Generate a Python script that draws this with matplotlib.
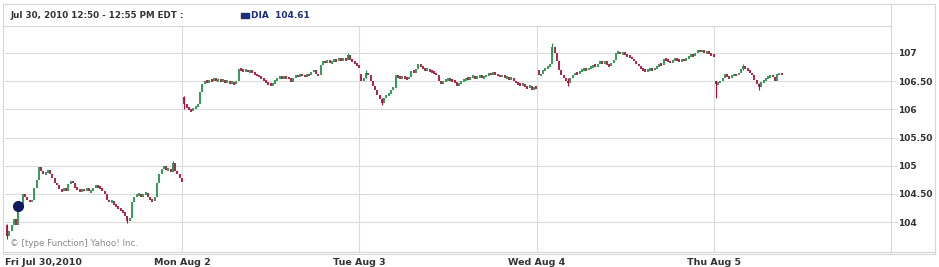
from matplotlib import pyplot as plt
from matplotlib.lines import Line2D
from matplotlib.patches import Rectangle
import numpy as np

# 5-minute closes, one list per trading day
fri_close = [103.75, 103.85, 103.95, 104.05, 103.95, 104.2, 104.3, 104.5, 104.45, 104.4,
             104.35, 104.4, 104.6, 104.75, 104.98, 104.9, 104.85, 104.88, 104.92, 104.85,
             104.78, 104.7, 104.65, 104.58, 104.55, 104.6, 104.55, 104.68, 104.72, 104.7,
             104.6, 104.58, 104.55, 104.58, 104.56, 104.6, 104.55, 104.55, 104.6, 104.65,
             104.62, 104.6, 104.55, 104.5, 104.4, 104.35, 104.38, 104.3, 104.28, 104.25,
             104.2, 104.18, 104.1, 104.02, 104.08, 104.35, 104.45, 104.48, 104.5, 104.45,
             104.5, 104.52, 104.45, 104.4, 104.38, 104.45, 104.7, 104.85, 104.95, 105.0,
             104.92, 104.95, 104.88, 105.05, 104.9, 104.85, 104.78, 104.72]
mon_close = [106.1, 106.03, 106.0, 105.97, 106.02, 106.05, 106.1, 106.3, 106.45, 106.5,
             106.48, 106.52, 106.5, 106.55, 106.5, 106.53, 106.5, 106.52, 106.48, 106.5,
             106.46, 106.48, 106.45, 106.5, 106.72, 106.7, 106.68, 106.7, 106.66, 106.68,
             106.66, 106.62, 106.6, 106.58, 106.55, 106.52, 106.48, 106.45, 106.42, 106.45,
             106.52, 106.55, 106.57, 106.55, 106.58, 106.56, 106.55, 106.48, 106.55, 106.6,
             106.58, 106.62, 106.6, 106.58, 106.62, 106.6, 106.66, 106.7, 106.62, 106.6,
             106.78, 106.85, 106.83, 106.87, 106.82, 106.85, 106.88, 106.86, 106.9, 106.87,
             106.9, 106.88, 106.97, 106.88, 106.85, 106.82, 106.78, 106.75]
tue_close = [106.5, 106.55, 106.65, 106.6, 106.5, 106.42, 106.35, 106.25, 106.18, 106.12,
             106.2, 106.25, 106.28, 106.35, 106.38, 106.6, 106.57, 106.55, 106.57, 106.55,
             106.53, 106.58, 106.68, 106.65, 106.72, 106.8, 106.75, 106.72, 106.7, 106.7,
             106.68, 106.67, 106.65, 106.6, 106.5, 106.45, 106.5, 106.52, 106.55, 106.52,
             106.5, 106.48, 106.42, 106.45, 106.5, 106.52, 106.55, 106.53, 106.57, 106.58,
             106.55, 106.57, 106.6, 106.55, 106.58, 106.6, 106.63, 106.62, 106.65, 106.62,
             106.6, 106.58, 106.6, 106.55, 106.57, 106.53, 106.55, 106.5, 106.47, 106.45,
             106.42, 106.45, 106.4, 106.38, 106.42, 106.35, 106.4, 106.38]
wed_close = [106.6, 106.62, 106.7, 106.72, 106.75, 106.8, 107.1, 107.0, 106.85, 106.7,
             106.6, 106.55, 106.5, 106.47, 106.55, 106.6, 106.65, 106.62, 106.68, 106.7,
             106.72, 106.7, 106.73, 106.75, 106.78, 106.76, 106.8, 106.85, 106.82, 106.85,
             106.78, 106.77, 106.82, 106.88, 107.0, 107.02, 106.98, 107.0, 106.97, 106.95,
             106.92, 106.9, 106.85, 106.8, 106.77, 106.72, 106.7, 106.68, 106.7, 106.72,
             106.7, 106.73, 106.75, 106.8, 106.78, 106.9, 106.88, 106.85, 106.83, 106.87,
             106.9, 106.88, 106.86, 106.88, 106.87, 106.9, 106.95, 106.97, 106.95, 107.0,
             107.05, 107.02, 107.05, 107.0, 107.03, 106.98, 106.96, 106.94]
thu_close = [106.45, 106.47, 106.5, 106.55, 106.62, 106.58, 106.55, 106.6, 106.62, 106.6,
             106.65, 106.72, 106.77, 106.72, 106.7, 106.65, 106.6, 106.52, 106.45, 106.4,
             106.48, 106.52, 106.55, 106.57, 106.6, 106.58, 106.5, 106.62, 106.63, 106.62]
day_open = [103.95, 106.22, 106.62, 106.7, 106.5]

# a few long wicks that stand out (day, bar, low, high)
wick_day = [0, 0, 0, 1, 1, 2, 2, 3, 3, 4, 4, 4]
wick_bar = [0, 53, 73, 0, 72, 2, 9, 6, 13, 0, 12, 19]
wick_lo = [103.7, 103.98, 104.9, 106.0, 106.9, 106.55, 106.08, 106.95, 106.42, 106.2, 106.7, 106.35]
wick_hi = [103.97, 104.1, 105.08, 106.24, 107.0, 106.69, 106.2, 107.17, 106.55, 106.5, 106.8, 106.47]

day_labels = ["Fri Jul 30,2010", "Mon Aug 2", "Tue Aug 3", "Wed Aug 4", "Thu Aug 5"]
y_ticks = [104, 104.5, 105, 105.5, 106, 106.5, 107]
y_tick_labels = ["104", "104.50", "105", "105.50", "106", "106.50", "107"]

header_text = "Jul 30, 2010 12:50 - 12:55 PM EDT :"
quote_text = "DIA  104.61"
marker_day, marker_bar, marker_price = 0, 5, 104.28

BARS_PER_DAY = 78
UP = "#23924a"
DOWN = "#a8123a"
GRID = "#dcdcdc"
TEXT = "#333333"
W, H = 939, 267


def main():
    fig = plt.figure(figsize=(W / 100, H / 100), dpi=100)
    fig.patch.set_facecolor("white")

    def fx(px):
        return px / W

    def fy(py):
        return 1 - py / H

    ax = fig.add_axes([fx(5), fy(252), fx(891) - fx(5), fy(27) - fy(252)])
    ax.set_xlim(0, 5 * BARS_PER_DAY)
    ax.set_ylim(103.47, 107.46)
    for s in ax.spines.values():
        s.set_visible(False)

    # horizontal grid + day separators
    for t in y_ticks:
        ax.axhline(t, color=GRID, lw=0.8, zorder=0)
    for d in range(1, 5):
        ax.axvline(d * BARS_PER_DAY, color=GRID, lw=0.8, zorder=0)

    # candles: open is the previous close inside a day
    days = [fri_close, mon_close, tue_close, wed_close, thu_close]
    for d, closes in enumerate(days):
        opens = [day_open[d]] + closes[:-1]
        xs = d * BARS_PER_DAY + np.arange(len(closes)) + 0.9
        o = np.array(opens)
        c = np.array(closes)
        lo = np.minimum(o, c)
        hi = np.maximum(o, c)
        mid = (lo + hi) / 2
        small = (hi - lo) < 0.05
        lo[small] = mid[small] - 0.025
        hi[small] = mid[small] + 0.025
        colors = [UP if cc >= oo else DOWN for oo, cc in zip(o, c)]
        ax.vlines(xs, lo, hi, colors=colors, lw=1.3, zorder=3)

    for d, b, l, h in zip(wick_day, wick_bar, wick_lo, wick_hi):
        closes = days[d]
        oo = day_open[d] if b == 0 else closes[b - 1]
        col = UP if closes[b] >= oo else DOWN
        ax.vlines(d * BARS_PER_DAY + b + 0.9, l, h, colors=col, lw=0.8, zorder=3)

    ax.plot(marker_day * BARS_PER_DAY + marker_bar + 0.9, marker_price, "o",
            color="#0d1b5e", ms=7, zorder=5)

    # right-side price axis
    ax.yaxis.tick_right()
    ax.set_yticks(y_ticks)
    ax.set_yticklabels(y_tick_labels, fontsize=6.5, fontweight="bold", color=TEXT)
    ax.tick_params(axis="y", length=4, width=0.8, color=GRID, pad=1)

    ax.set_xticks([d * BARS_PER_DAY for d in range(5)])
    ax.set_xticklabels(day_labels, fontsize=6.8, fontweight="bold", color=TEXT)
    ax.tick_params(axis="x", length=0, pad=4)
    ax.get_xticklabels()[0].set_horizontalalignment("left")

    ax.text(0.006, 0.02, "\u00a9 [type Function] Yahoo! Inc.", transform=ax.transAxes,
            fontsize=6.3, color="#8a8a8a", ha="left", va="bottom")

    # frame lines around header and plot
    lines = [
        ([3, 935], [4, 4]),
        ([3, 3], [4, 253]),
        ([935, 935], [4, 253]),
        ([3, 891], [26, 26]),
        ([891, 891], [4, 253]),
        ([3, 935], [251.5, 251.5]),
        ([3, 935], [253.5, 253.5]),
    ]
    for xs, ys in lines:
        fig.add_artist(Line2D([fx(v) for v in xs], [fy(v) for v in ys],
                              color="#d6d6d6", lw=0.8))

    # header
    fig.text(fx(11), fy(15.5), header_text, fontsize=6.3, fontweight="bold",
             color=TEXT, ha="left", va="center")
    fig.add_artist(Rectangle((fx(241), fy(18)), fx(8), fy(13) - fy(18),
                             color="#1c2f7a", transform=fig.transFigure))
    fig.text(fx(251), fy(15.5), quote_text, fontsize=6.5, fontweight="bold",
             color="#1c2f7a", ha="left", va="center")

    fig.savefig("out.png", dpi=100, facecolor=fig.get_facecolor())


if __name__ == "__main__":
    main()
